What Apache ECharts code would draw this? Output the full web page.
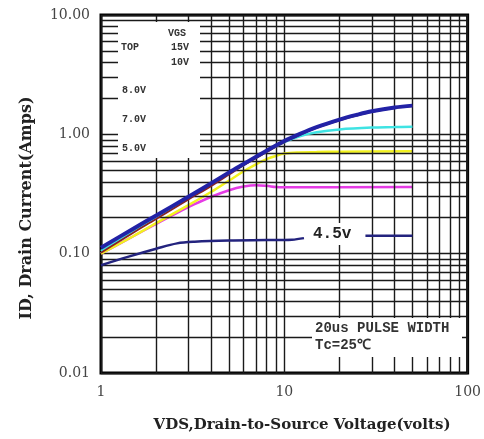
<!DOCTYPE html>
<html><head><meta charset="utf-8">
<script src="https://cdn.jsdelivr.net/npm/echarts@6/dist/echarts.min.js"></script>
<style>html,body{margin:0;padding:0;background:#fff}#c{width:484px;height:439px}</style>
</head><body><div id="c"></div>
<script>
// Grid (minor) values
const xMinor = [2,3,4,5,6,7,8,9,20,30,40,50,60,70,80,90];
const yMinor = [0.02,0.03,0.04,0.05,0.06,0.07,0.08,0.09,0.2,0.3,0.4,0.5,0.6,0.7,0.8,0.9,2,3,4,5,6,7,8,9];

// Series data (VDS volts, ID amps)
const vds15 = [1, 1.5, 2, 3, 4, 5, 6, 8, 10, 12, 15, 20, 25, 30, 40, 50];
const id15  = [0.112, 0.162, 0.209, 0.30, 0.39, 0.48, 0.565, 0.73, 0.88, 1.0, 1.15, 1.33, 1.46, 1.56, 1.68, 1.74];

const vds10 = [1, 1.5, 2, 3, 4, 5, 6, 8, 10, 12, 15, 20, 30, 40, 50];
const id10  = [0.102, 0.15, 0.195, 0.285, 0.37, 0.46, 0.55, 0.71, 0.86, 0.98, 1.13, 1.31, 1.54, 1.66, 1.72];

const vds8 = [1, 2, 3, 5, 8, 10, 12, 15, 20, 30, 40, 50];
const id8  = [0.105, 0.2, 0.29, 0.47, 0.72, 0.86, 0.96, 1.04, 1.1, 1.14, 1.15, 1.16];

const vds7 = [1, 1.5, 2, 3, 4, 5, 6, 7, 8, 9, 10, 12, 15, 20, 50];
const id7  = [0.10, 0.14, 0.18, 0.255, 0.33, 0.41, 0.49, 0.56, 0.62, 0.66, 0.69, 0.705, 0.71, 0.715, 0.72];

const vds5 = [1, 1.5, 2, 2.6, 3.24, 4, 5, 6, 7, 8, 9, 10, 50];
const id5  = [0.10, 0.14, 0.178, 0.22, 0.26, 0.30, 0.34, 0.365, 0.375, 0.37, 0.362, 0.36, 0.362];

const vds45 = [1, 1.4, 2, 2.6, 3.24, 5, 8, 11, 12.8, 20, 27.7, 50];
const id45  = [0.080, 0.094, 0.11, 0.122, 0.126, 0.129, 0.13, 0.131, 0.135, null, 0.141, 0.141];

const pairs = (xs, ys) => xs.map((x, i) => [x, ys[i]]);

const chart = echarts.init(document.getElementById('c'), null, {renderer: 'canvas'});
const gridLine = {color: '#1a1a1a', width: 1.4, type: 'solid'};
const mono = '"Liberation Mono", "DejaVu Sans Mono", monospace';
const serif = '"DejaVu Serif", "Liberation Serif", serif';

function curve(name, xs, ys, color, width, z) {
  return {
    name, type: 'line', data: pairs(xs, ys), smooth: 0.35, showSymbol: false, symbol: 'none',
    connectNulls: false, z,
    lineStyle: {color, width}, itemStyle: {color}
  };
}

chart.setOption({
  animation: false,
  backgroundColor: '#fff',
  grid: {left: 101, right: 14, top: 15, bottom: 66, show: true, borderColor: '#000', borderWidth: 3, backgroundColor: 'transparent'},
  xAxis: {
    type: 'log', logBase: 10, min: 1, max: 100,
    axisLine: {show: false}, axisTick: {show: false},
    splitLine: {show: true, lineStyle: gridLine},
    axisLabel: {margin: 12, color: '#444', fontFamily: serif, fontSize: 14, formatter: v => String(Math.round(v))}
  },
  yAxis: {
    type: 'log', logBase: 10, min: 0.01, max: 10,
    axisLine: {show: false}, axisTick: {show: false},
    splitLine: {show: true, lineStyle: gridLine},
    axisLabel: {margin: 11, color: '#444', fontFamily: serif, fontSize: 14, formatter: v => Number(v).toFixed(2)}
  },
  series: [
    {
      name: 'grid', type: 'line', data: [], z: 1, silent: true,
      markLine: {
        silent: true, symbol: ['none', 'none'], label: {show: false}, animation: false,
        lineStyle: gridLine, emphasis: {disabled: true},
        data: xMinor.map(v => ({xAxis: v})).concat(yMinor.map(v => ({yAxis: v})))
      }
    },
    curve('5.0V', vds5, id5, '#e53be5', 2.5, 3),
    curve('7.0V', vds7, id7, '#f2f21e', 2.5, 4),
    curve('8.0V', vds8, id8, '#3fe3e3', 2.5, 5),
    curve('4.5V', vds45, id45, '#23237e', 2.5, 6),
    curve('10V', vds10, id10, '#8a2222', 1.8, 7),
    curve('15V', vds15, id15, '#2222a6', 4, 8)
  ],
  graphic: [
    {type: 'rect', z: 100, shape: {x: 118, y: 22, width: 82, height: 136}, style: {fill: '#fff'}},
    {type: 'rect', z: 100, shape: {x: 312, y: 318, width: 150, height: 39}, style: {fill: '#fff'}},
    {type: 'text', z: 101, x: 168, y: 33, style: {text: 'VGS', fill: '#333', font: 'bold 10px ' + mono, verticalAlign: 'middle'}},
    {type: 'text', z: 101, x: 121, y: 47, style: {text: 'TOP', fill: '#333', font: 'bold 10px ' + mono, verticalAlign: 'middle'}},
    {type: 'text', z: 101, x: 171, y: 47, style: {text: '15V', fill: '#333', font: 'bold 10px ' + mono, verticalAlign: 'middle'}},
    {type: 'text', z: 101, x: 171, y: 62, style: {text: '10V', fill: '#333', font: 'bold 10px ' + mono, verticalAlign: 'middle'}},
    {type: 'text', z: 101, x: 122, y: 90, style: {text: '8.0V', fill: '#333', font: 'bold 10px ' + mono, verticalAlign: 'middle'}},
    {type: 'text', z: 101, x: 122, y: 119, style: {text: '7.0V', fill: '#333', font: 'bold 10px ' + mono, verticalAlign: 'middle'}},
    {type: 'text', z: 101, x: 122, y: 148, style: {text: '5.0V', fill: '#333', font: 'bold 10px ' + mono, verticalAlign: 'middle'}},
    {type: 'text', z: 101, x: 309, y: 234, style: {text: '4.5v', fill: '#222', font: 'bold 16px ' + mono, verticalAlign: 'middle', backgroundColor: '#fff', padding: [3, 4]}},
    {type: 'text', z: 101, x: 315, y: 328, style: {text: '20us PULSE WIDTH', fill: '#333', font: 'bold 14px ' + mono, verticalAlign: 'middle'}},
    {type: 'text', z: 101, x: 315, y: 345, style: {text: 'Tc=25℃', fill: '#333', font: 'bold 14px ' + mono, verticalAlign: 'middle'}},
    {type: 'text', z: 101, x: 302, y: 425, style: {text: 'VDS,Drain-to-Source Voltage(volts)', fill: '#222', font: 'bold 15px ' + serif, align: 'center', verticalAlign: 'middle'}},
    {type: 'text', z: 101, x: 27, y: 208, rotation: Math.PI / 2, style: {text: 'ID, Drain Current(Amps)', fill: '#222', font: 'bold 16px ' + serif, align: 'center', verticalAlign: 'middle'}}
  ]
});
</script></body></html>
